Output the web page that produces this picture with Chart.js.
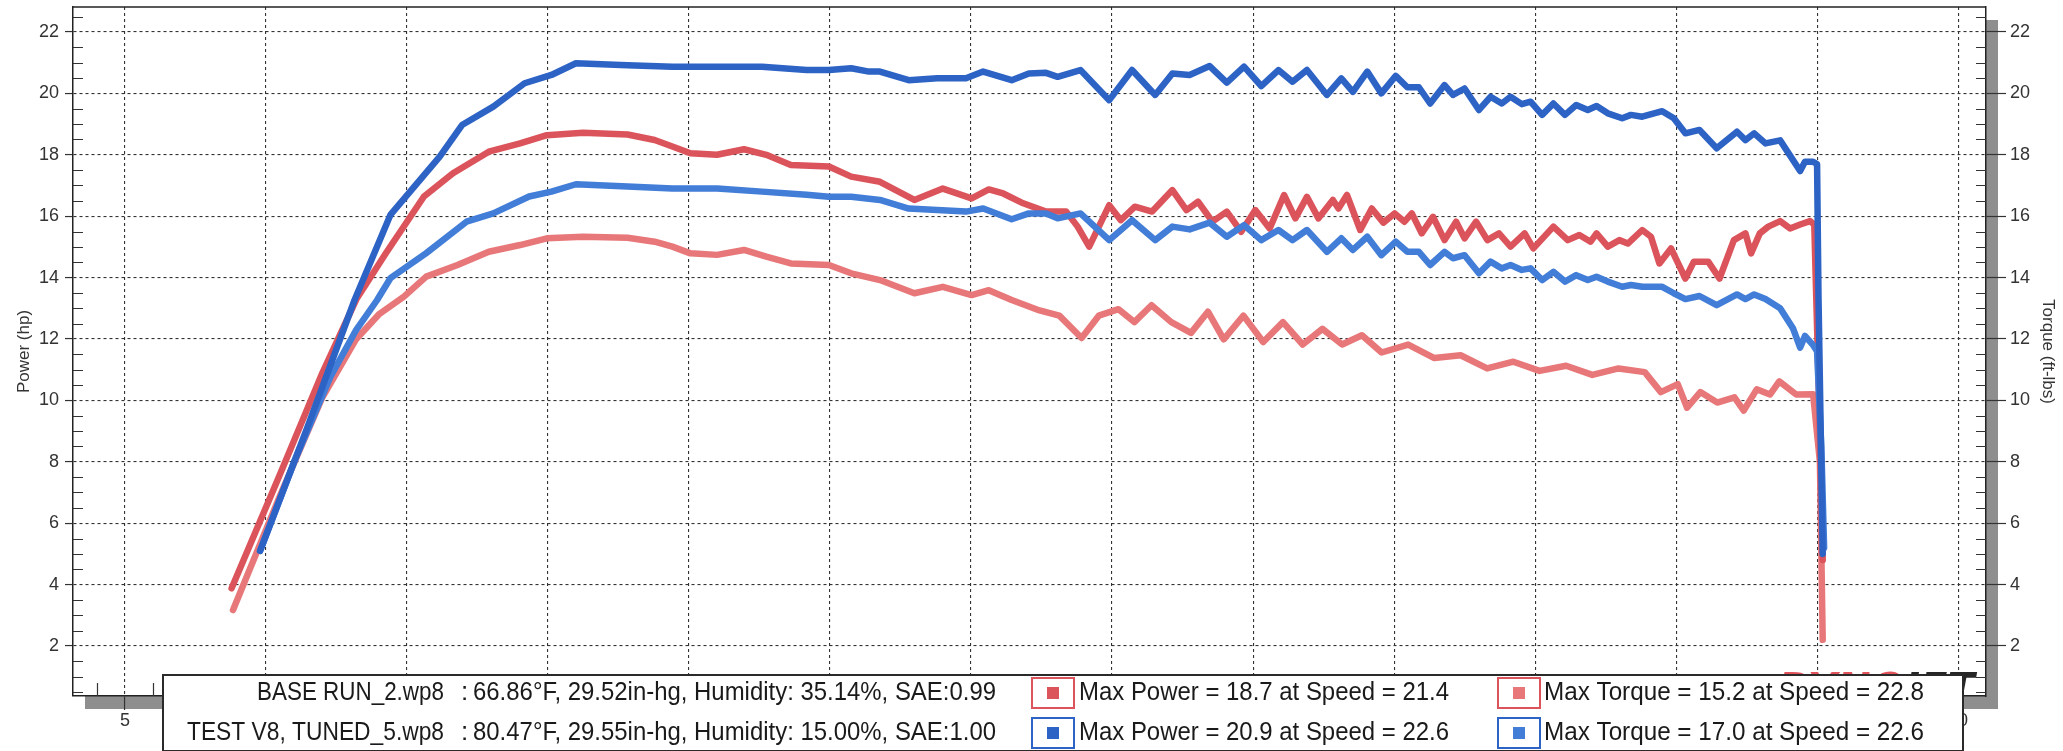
<!DOCTYPE html>
<html>
<head>
<meta charset="utf-8">
<script src="https://cdn.jsdelivr.net/npm/chart.js@4.4.0/dist/chart.umd.min.js"></script>
<style>
  html, body { margin: 0; padding: 0; background: #fff; }
</style>
</head>
<body>
<canvas id="dynoChart" width="2063" height="751"></canvas>
<script>
// tuned run (TEST V8, TUNED_5)
const tunedPowerSpeed = [9.79, 11.5, 13.14, 14.41, 16.16, 16.95, 18.06, 19.17, 20.12, 20.99, 22.82, 24.41, 27.59, 29.17, 29.96, 30.75, 31.38, 31.77, 32.79, 33.8, 34.82, 35.43, 36.44, 37.05, 37.66, 38.07, 38.88, 39.9, 40.71, 41.53, 42.14, 42.75, 43.46, 44.07, 44.68, 45.29, 45.9, 46.4, 46.91, 47.62, 48.13, 48.54, 49.05, 49.55, 50.06, 50.47, 50.88, 51.28, 51.79, 52.09, 52.5, 53.01, 53.42, 53.82, 54.13, 54.53, 54.84, 55.25, 55.65, 56.06, 56.46, 56.87, 57.18, 57.58, 58.09, 58.4, 58.8, 59.51, 59.92, 60.33, 60.83, 61.44, 62.16, 62.46, 62.77, 63.17, 63.69, 64.4, 64.57, 64.86, 65.0, 65.05, 65.2];
const tunedPowerHp = [5.1, 9.2, 13.27, 16.04, 17.94, 18.97, 19.57, 20.33, 20.6, 20.98, 20.92, 20.87, 20.87, 20.76, 20.76, 20.82, 20.71, 20.71, 20.43, 20.49, 20.49, 20.71, 20.43, 20.65, 20.67, 20.54, 20.76, 19.78, 20.76, 19.95, 20.65, 20.6, 20.89, 20.35, 20.87, 20.24, 20.76, 20.38, 20.76, 19.95, 20.49, 20.05, 20.71, 20.0, 20.57, 20.2, 20.2, 19.67, 20.27, 19.95, 20.16, 19.46, 19.89, 19.67, 19.89, 19.65, 19.73, 19.3, 19.67, 19.3, 19.62, 19.46, 19.59, 19.35, 19.19, 19.3, 19.24, 19.42, 19.19, 18.7, 18.81, 18.21, 18.75, 18.48, 18.7, 18.37, 18.47, 17.47, 17.77, 17.77, 17.7, 13.4, 5.0];

const tunedTorqueSpeed = [9.79, 11.0, 12.3, 13.2, 13.94, 14.41, 15.67, 17.11, 18.06, 19.33, 20.12, 20.99, 22.82, 24.41, 26.0, 27.59, 29.17, 29.96, 30.75, 31.77, 32.79, 33.8, 34.82, 35.43, 36.44, 37.05, 37.66, 38.07, 38.88, 39.9, 40.71, 41.53, 42.14, 42.75, 43.46, 44.07, 44.68, 45.29, 45.9, 46.4, 46.91, 47.62, 48.13, 48.54, 49.05, 49.55, 50.06, 50.47, 50.88, 51.28, 51.79, 52.09, 52.5, 53.01, 53.42, 53.82, 54.13, 54.53, 54.84, 55.25, 55.65, 56.06, 56.46, 56.87, 57.18, 57.58, 58.09, 58.4, 58.8, 59.51, 59.92, 60.33, 60.83, 61.44, 62.16, 62.46, 62.77, 63.17, 63.69, 64.15, 64.4, 64.57, 64.86, 65.0, 65.15, 65.25];
const tunedTorqueLb = [5.1, 8.0, 10.8, 12.3, 13.27, 13.98, 14.79, 15.82, 16.09, 16.64, 16.8, 17.04, 16.97, 16.9, 16.9, 16.8, 16.7, 16.63, 16.63, 16.53, 16.25, 16.2, 16.15, 16.25, 15.9, 16.09, 16.09, 15.93, 16.09, 15.22, 15.87, 15.22, 15.66, 15.57, 15.79, 15.33, 15.71, 15.22, 15.55, 15.22, 15.55, 14.84, 15.28, 14.9, 15.33, 14.73, 15.17, 14.84, 14.84, 14.41, 14.84, 14.63, 14.73, 14.14, 14.52, 14.3, 14.41, 14.25, 14.3, 13.92, 14.19, 13.87, 14.08, 13.92, 14.03, 13.87, 13.7, 13.76, 13.7, 13.7, 13.49, 13.3, 13.4, 13.1, 13.45, 13.3, 13.45, 13.3, 13.0, 12.34, 11.72, 12.1, 11.8, 11.6, 8.5, 5.2];

// base run (BASE RUN_2)
const basePowerSpeed = [8.78, 10.5, 12.0, 13.22, 14.25, 15.6, 16.63, 17.9, 19.01, 19.96, 21.24, 22.82, 23.78, 24.41, 25.05, 25.99, 26.95, 27.74, 28.61, 29.96, 30.75, 31.77, 32.99, 34.0, 35.02, 35.63, 36.14, 36.85, 37.66, 38.37, 38.78, 39.19, 39.9, 40.31, 40.81, 41.42, 42.14, 42.64, 43.05, 43.56, 44.07, 44.58, 45.08, 45.59, 46.1, 46.5, 46.91, 47.32, 47.83, 48.03, 48.33, 48.8, 49.21, 49.62, 50.02, 50.37, 50.63, 50.98, 51.38, 51.79, 52.2, 52.5, 52.91, 53.31, 53.72, 54.13, 54.63, 54.94, 55.65, 56.16, 56.57, 56.97, 57.18, 57.58, 57.99, 58.29, 58.8, 59.11, 59.41, 59.82, 60.33, 60.63, 61.14, 61.54, 62.05, 62.46, 62.66, 62.97, 63.27, 63.69, 64.04, 64.4, 64.75, 64.9, 65.1, 65.2];
const basePowerHp = [3.88, 7.6, 10.9, 13.32, 14.79, 16.64, 17.4, 18.1, 18.37, 18.64, 18.72, 18.66, 18.48, 18.27, 18.05, 18.0, 18.18, 18.0, 17.67, 17.62, 17.29, 17.12, 16.53, 16.9, 16.58, 16.87, 16.74, 16.42, 16.15, 16.15, 15.66, 15.01, 16.36, 15.87, 16.31, 16.15, 16.85, 16.2, 16.47, 15.82, 16.15, 15.49, 16.2, 15.6, 16.69, 15.93, 16.63, 15.93, 16.53, 16.25, 16.69, 15.55, 16.25, 15.79, 16.09, 15.82, 16.09, 15.44, 15.98, 15.22, 15.82, 15.28, 15.82, 15.22, 15.44, 15.01, 15.44, 14.95, 15.66, 15.22, 15.39, 15.17, 15.44, 15.01, 15.22, 15.11, 15.55, 15.33, 14.46, 14.95, 13.97, 14.52, 14.52, 13.97, 15.22, 15.44, 14.79, 15.44, 15.66, 15.84, 15.6, 15.73, 15.84, 15.73, 9.0, 4.8];

const baseTorqueSpeed = [8.83, 10.5, 12.0, 13.2, 14.0, 14.89, 15.68, 16.79, 17.9, 19.01, 19.96, 21.24, 22.82, 23.78, 24.41, 25.05, 25.99, 26.95, 27.74, 28.61, 29.96, 30.75, 31.77, 32.99, 34.0, 35.02, 35.63, 36.44, 37.43, 38.13, 38.92, 39.53, 40.23, 40.79, 41.4, 42.1, 42.8, 43.4, 43.96, 44.66, 45.36, 46.06, 46.76, 47.46, 48.16, 48.86, 49.56, 50.5, 51.43, 52.36, 53.3, 54.23, 55.16, 56.1, 57.03, 57.96, 58.89, 59.46, 60.06, 60.39, 60.86, 61.46, 62.07, 62.4, 62.86, 63.33, 63.66, 64.26, 64.86, 65.1, 65.2];
const baseTorqueLb = [3.17, 6.9, 10.1, 12.0, 12.8, 13.38, 14.03, 14.41, 14.84, 15.06, 15.28, 15.33, 15.3, 15.17, 15.01, 14.79, 14.74, 14.9, 14.68, 14.46, 14.41, 14.14, 13.92, 13.49, 13.7, 13.43, 13.59, 13.27, 12.93, 12.76, 12.03, 12.76, 12.97, 12.55, 13.1, 12.55, 12.2, 12.89, 11.99, 12.76, 11.9, 12.55, 11.82, 12.33, 11.82, 12.12, 11.56, 11.82, 11.38, 11.47, 11.04, 11.26, 10.96, 11.13, 10.83, 11.04, 10.92, 10.27, 10.53, 9.76, 10.27, 9.93, 10.1, 9.67, 10.36, 10.19, 10.62, 10.19, 10.2, 8.0, 2.2];

const speedTicks = [5, 10, 15, 20, 25, 30, 35, 40, 45, 50, 55, 60, 65, 70];
const valueTicks = [2, 4, 6, 8, 10, 12, 14, 16, 18, 20, 22];

const runNames = ['BASE RUN_2.wp8', 'TEST V8, TUNED_5.wp8'];
const runConditions = ['66.86°F, 29.52in-hg, Humidity: 35.14%, SAE:0.99', '80.47°F, 29.55in-hg, Humidity: 15.00%, SAE:1.00'];
const maxPowerText = ['Max Power = 18.7 at Speed = 21.4', 'Max Power = 20.9 at Speed = 22.6'];
const maxTorqueText = ['Max Torque = 15.2 at Speed = 22.8', 'Max Torque = 17.0 at Speed = 22.6'];

const basePowerColor = '#dc545b';
const baseTorqueColor = '#e87779';
const tunedPowerColor = '#2d63c5';
const tunedTorqueColor = '#427dd8';

function pairs(xs, ys) {
  return xs.map((x, i) => ({ x: x, y: ys[i] }));
}

function line(label, xs, ys, color, axis) {
  return {
    label: label,
    data: pairs(xs, ys),
    yAxisID: axis,
    borderColor: color,
    backgroundColor: color,
    borderWidth: 6.5,
    borderJoinStyle: 'round',
    borderCapStyle: 'round',
    pointRadius: 0,
    tension: 0,
    fill: false
  };
}

function fitText(ctx, text, x, y, width) {
  const w = ctx.measureText(text).width;
  ctx.save();
  ctx.translate(x, y);
  ctx.scale(width / w, 1);
  ctx.fillText(text, 0, 0);
  ctx.restore();
}

const frame = {
  id: 'frame',
  beforeDraw(chart) {
    const { ctx, chartArea: a } = chart;
    ctx.save();
    ctx.fillStyle = '#fff';
    ctx.fillRect(0, 0, chart.width, chart.height);
    ctx.fillStyle = '#8e8e8e';
    ctx.fillRect(a.left + 12, a.top + 13, a.right - a.left, a.bottom - a.top);
    ctx.fillStyle = '#fff';
    ctx.fillRect(a.left, a.top, a.right - a.left, a.bottom - a.top);
    ctx.restore();
  },
  beforeDatasetsDraw(chart) {
    const { ctx, chartArea: a, scales } = chart;
    ctx.save();
    ctx.strokeStyle = '#333';
    ctx.lineWidth = 1.2;
    ctx.beginPath();
    for (let v = 0.5; v < scales.y.max; v += 0.5) {
      if (v % 2 === 0) continue;
      const py = Math.round(scales.y.getPixelForValue(v)) + 0.5;
      ctx.moveTo(a.left, py); ctx.lineTo(a.left + 10, py);
      ctx.moveTo(a.right, py); ctx.lineTo(a.right - 10, py);
    }
    for (let v = 4; v < scales.x.max; v++) {
      if (v % 5 === 0) continue;
      const px = Math.round(scales.x.getPixelForValue(v)) + 0.5;
      ctx.moveTo(px, a.bottom); ctx.lineTo(px, a.bottom - 13);
    }
    ctx.stroke();
    ctx.strokeStyle = '#222';
    ctx.lineWidth = 1.5;
    ctx.beginPath();
    ctx.moveTo(a.left, a.top);
    ctx.lineTo(a.right, a.top);
    ctx.stroke();
    ctx.restore();
  },
  afterDraw(chart) {
    const { ctx, chartArea: a } = chart;
    ctx.save();
    // logo, mostly hidden behind the info box
    ctx.beginPath();
    ctx.rect(a.left, a.top, a.right - a.left, a.bottom - a.top);
    ctx.clip();
    ctx.font = 'italic bold 40px "DejaVu Sans"';
    ctx.textBaseline = 'alphabetic';
    ctx.fillStyle = '#e2545c';
    ctx.fillText('DYNO', 1778, 702);
    ctx.fillStyle = '#262626';
    ctx.fillText('JET', 1905, 702);
    ctx.restore();

    // info box
    const bx = 163, by = 675, bw = 1800, bh = 76;
    ctx.save();
    ctx.fillStyle = '#fff';
    ctx.fillRect(bx, by, bw, bh);
    ctx.strokeStyle = '#2a2a2a';
    ctx.lineWidth = 2;
    ctx.strokeRect(bx, by, bw, bh);

    ctx.font = '26px "Liberation Sans"';
    ctx.fillStyle = '#1a1a1a';
    ctx.textBaseline = 'alphabetic';
    const rowY = [700, 740];
    const nameLeft = [257, 187];
    const outline = [basePowerColor, tunedPowerColor];
    const fills = [[basePowerColor, baseTorqueColor], [tunedPowerColor, tunedTorqueColor]];
    for (let r = 0; r < 2; r++) {
      const y = rowY[r];
      fitText(ctx, runNames[r], nameLeft[r], y, 444 - nameLeft[r]);
      ctx.fillText(':', 461, y);
      fitText(ctx, runConditions[r], 473, y, 523);
      fitText(ctx, maxPowerText[r], 1079, y, 370);
      fitText(ctx, maxTorqueText[r], 1544, y, 380);
      const sx = [1032, 1498];
      for (let c = 0; c < 2; c++) {
        ctx.strokeStyle = outline[r];
        ctx.lineWidth = 2;
        ctx.strokeRect(sx[c], y - 22, 42, 30);
        ctx.fillStyle = fills[r][c];
        ctx.fillRect(sx[c] + 15, y - 13, 12, 12);
        ctx.fillStyle = '#1a1a1a';
      }
    }
    ctx.restore();
  }
};

const tickFont = { family: 'Liberation Sans', size: 18 };

new Chart(document.getElementById('dynoChart').getContext('2d'), {
  type: 'line',
  data: {
    datasets: [
      line('Power (TUNED_5)', tunedPowerSpeed, tunedPowerHp, tunedPowerColor, 'y'),
      line('Torque (TUNED_5)', tunedTorqueSpeed, tunedTorqueLb, tunedTorqueColor, 'y2'),
      line('Power (BASE RUN_2)', basePowerSpeed, basePowerHp, basePowerColor, 'y'),
      line('Torque (BASE RUN_2)', baseTorqueSpeed, baseTorqueLb, baseTorqueColor, 'y2')
    ]
  },
  options: {
    responsive: false,
    animation: false,
    devicePixelRatio: 1,
    layout: { padding: { top: 7, left: 0, right: 0, bottom: 0 } },
    plugins: {
      legend: { display: false },
      tooltip: { enabled: false }
    },
    scales: {
      x: {
        type: 'linear',
        min: 3.156,
        max: 70.99,
        afterBuildTicks: s => { s.ticks = speedTicks.map(v => ({ value: v })); },
        afterFit: s => { s.height = 55; },
        grid: { color: '#333', lineWidth: 1.1, tickLength: 14, tickColor: '#333', tickWidth: 1.2, tickBorderDash: [] },
        border: { display: true, color: '#222', width: 1.5, dash: [3, 3] },
        ticks: { font: tickFont, color: '#333', padding: 0, maxRotation: 0, autoSkip: false },
        title: { display: true, text: 'Speed (mph)', font: tickFont, color: '#333', padding: { top: 0, bottom: 0 } }
      },
      y: {
        type: 'linear',
        position: 'left',
        min: 0.371,
        max: 22.814,
        afterBuildTicks: s => { s.ticks = valueTicks.map(v => ({ value: v })); },
        afterFit: s => { s.width = 73; s.paddingTop = 0; s.paddingBottom = 0; },
        grid: { color: '#333', lineWidth: 1.1, tickLength: 8, tickColor: '#333', tickWidth: 1.2, tickBorderDash: [] },
        border: { display: true, color: '#222', width: 1.5, dash: [3, 3] },
        ticks: { font: tickFont, color: '#333', padding: 6 },
        title: { display: true, text: 'Power (hp)', font: { family: 'Liberation Sans', size: 17 }, color: '#333', padding: { top: 14, bottom: 0 } }
      },
      y2: {
        type: 'linear',
        position: 'right',
        min: 0.371,
        max: 22.814,
        afterBuildTicks: s => { s.ticks = valueTicks.map(v => ({ value: v })); },
        afterFit: s => { s.width = 77; s.paddingTop = 0; s.paddingBottom = 0; },
        grid: { drawOnChartArea: false, tickLength: 20, tickColor: '#333', tickWidth: 1.2, tickBorderDash: [] },
        border: { display: true, color: '#222', width: 1.5 },
        ticks: { font: tickFont, color: '#333', padding: 4 },
        title: { display: true, text: 'Torque (ft-lbs)', font: { family: 'Liberation Sans', size: 17 }, color: '#333', padding: { top: 5, bottom: 0 } }
      }
    }
  },
  plugins: [frame]
});
</script>
</body>
</html>
